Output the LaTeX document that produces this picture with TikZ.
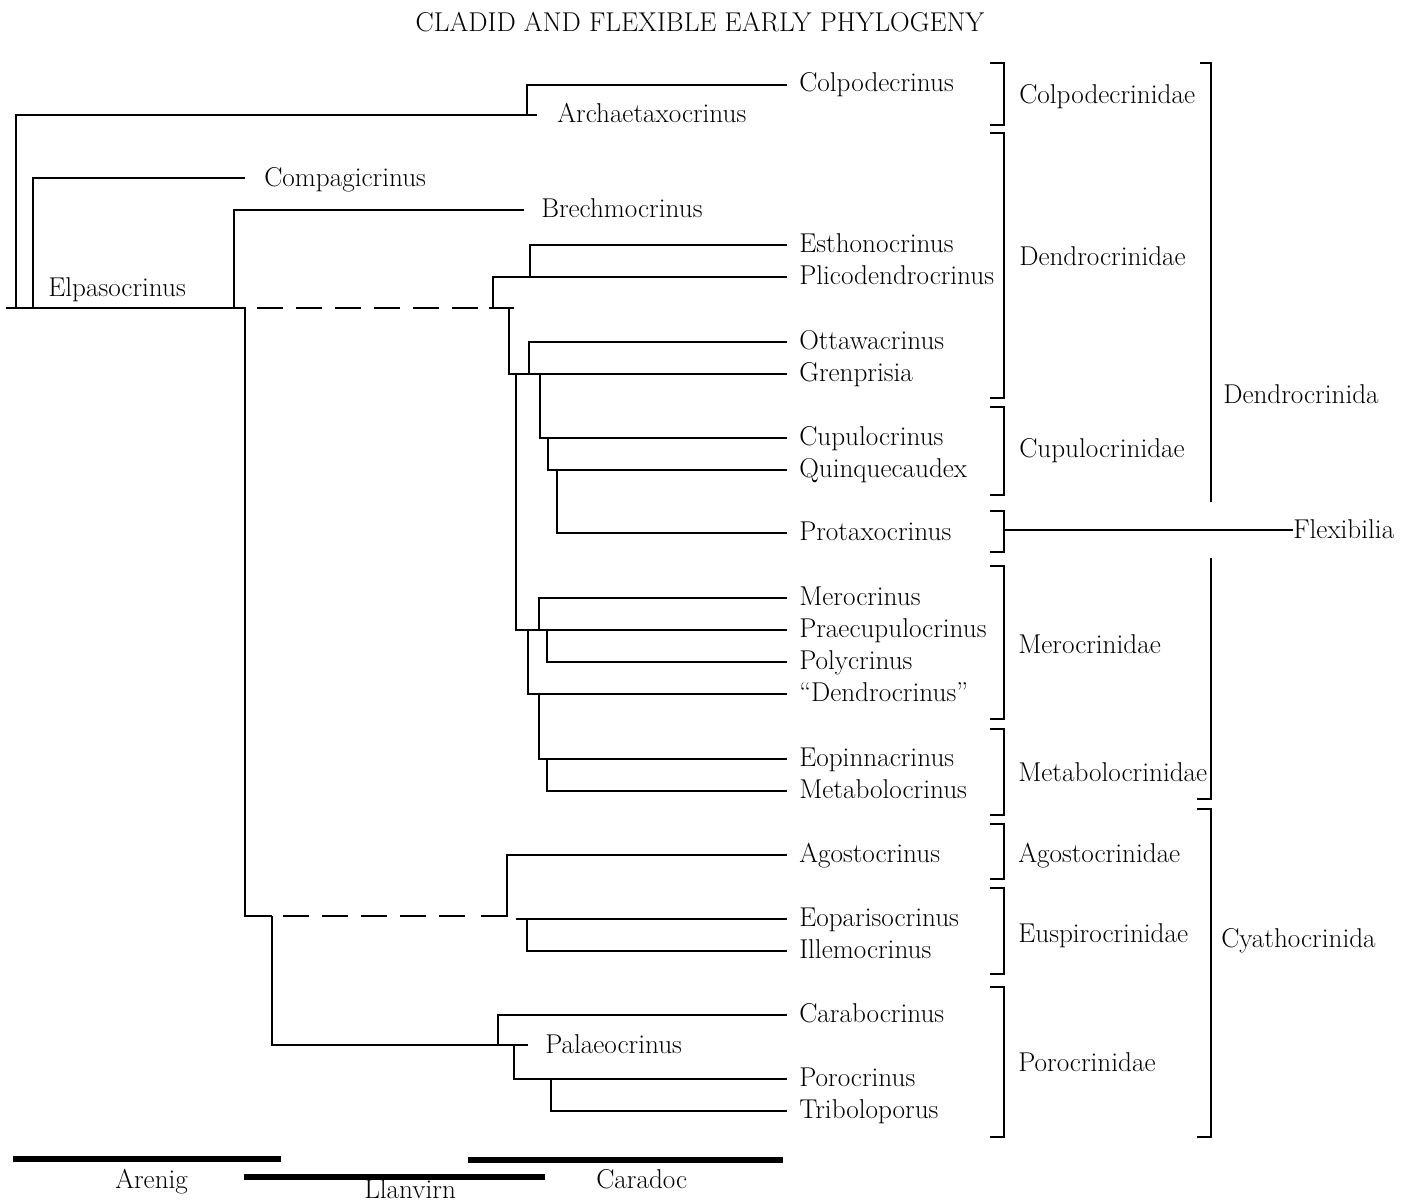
\documentclass[tikz,border=0pt]{standalone}
\newcommand{\labfont}{\fontsize{20.4}{24}\selectfont}
\tikzset{
  lbl/.style={anchor=base west, inner sep=0pt, font=\labfont},
  ttl/.style={anchor=base, inner sep=0pt, font=\labfont},
  branch/.style={line width=1.4pt, line join=miter},
  dbranch/.style={line width=1.4pt, dash pattern=on 19.5pt off 9.75pt},
  brk/.style={line width=1.4pt, line join=miter},
  bar/.style={line width=3.8pt}
}
% tip: coordinate at line end + label
\newcommand{\tip}[3]{\coordinate (#1-e) at (787,#2); \node[lbl] (#1) at (799,{#2+7}) {#3};}
\newcommand{\famb}[2]{\draw[brk] (990,#1) -- (1004,#1) -- (1004,#2) -- (990,#2);}
\begin{document}
\begin{tikzpicture}[x=0.75pt,y=-0.75pt]
\useasboundingbox (0,0) rectangle (1406,1202);

% title
\node[ttl] (title) at (700,32) {CLADID AND FLEXIBLE EARLY PHYLOGENY};

% tips
\tip{colp}{85}{Colpodecrinus}
\tip{esth}{245}{Esthonocrinus}
\tip{plic}{277}{Plicodendrocrinus}
\tip{otta}{342}{Ottawacrinus}
\tip{gren}{374}{Grenprisia}
\tip{cupu}{438}{Cupulocrinus}
\tip{quin}{470}{Quinquecaudex}
\tip{prot}{533}{Protaxocrinus}
\tip{mero}{598}{Merocrinus}
\tip{prae}{630}{Praecupulocrinus}
\tip{poly}{662}{Polycrinus}
\tip{dend}{694}{“Dendrocrinus”}
\tip{eopi}{759}{Eopinnacrinus}
\tip{meta}{791}{Metabolocrinus}
\tip{agos}{855}{Agostocrinus}
\tip{eopa}{919}{Eoparisocrinus}
\tip{ille}{951}{Illemocrinus}
\tip{cara}{1015}{Carabocrinus}
\tip{poro}{1079}{Porocrinus}
\tip{trib}{1111}{Triboloporus}

% inner labels
\coordinate (archae-e) at (537,115);
\node[lbl] (archae) at (557,123) {Archaetaxocrinus};
\coordinate (compa-e) at (245,178);
\node[lbl] (compa) at (264,186) {Compagicrinus};
\coordinate (brech-e) at (524,210);
\node[lbl] (brech) at (541,217) {Brechmocrinus};
\node[lbl] (elpa) at (48,296) {Elpasocrinus};
\coordinate (palaeo-e) at (528,1045);
\node[lbl] (palaeo) at (545,1053) {Palaeocrinus};

% tree
\draw[branch] (6,308) -- (245,308) -- (245,916) -- (272,916);
\draw[branch] (16,308) |- (archae-e);
\draw[branch] (527,115) |- (colp-e);
\draw[branch] (33,308) |- (compa-e);
\draw[branch] (234,308) |- (brech-e);
\draw[dbranch] (257,308) -- (479,308);
\draw[branch] (489,308) -- (514,308);
\draw[branch] (493,308) |- (plic-e);
\draw[branch] (530,277) |- (esth-e);
\draw[branch] (509,308) |- (gren-e);
\draw[branch] (529,374) |- (otta-e);
\draw[branch] (516,374) |- (prae-e);
\draw[branch] (540,374) |- (cupu-e);
\draw[branch] (548,438) |- (quin-e);
\draw[branch] (557,470) |- (prot-e);
\draw[branch] (539,630) |- (mero-e);
\draw[branch] (547,630) |- (poly-e);
\draw[branch] (528,630) |- (dend-e);
\draw[branch] (539,694) |- (eopi-e);
\draw[branch] (547,759) |- (meta-e);

\draw[dbranch] (283,916) -- (469,916);
\draw[branch] (481,916) -- (507,916) |- (agos-e);
\draw[branch] (516,919) -- (eopa-e);
\draw[branch] (527,919) |- (ille-e);
\draw[branch] (272,916) |- (palaeo-e);
\draw[branch] (498,1045) |- (cara-e);
\draw[branch] (514,1045) |- (poro-e);
\draw[branch] (551,1079) |- (trib-e);

% family brackets
\famb{63}{125}
\famb{133}{398}
\famb{407}{495}
\famb{511}{552}
\famb{566}{719}
\famb{729}{815}
\famb{824}{879}
\famb{888}{974}
\famb{987}{1137}

\node[lbl] (f1) at (1019,104) {Colpodecrinidae};
\node[lbl] (f2) at (1019,265) {Dendrocrinidae};
\node[lbl] (f3) at (1019,457) {Cupulocrinidae};
\node[lbl] (f4) at (1018,653) {Merocrinidae};
\node[lbl] (f5) at (1018,781) {Metabolocrinidae};
\node[lbl] (f6) at (1018,862) {Agostocrinidae};
\node[lbl] (f7) at (1018,942) {Euspirocrinidae};
\node[lbl] (f8) at (1018,1071) {Porocrinidae};

% order brackets
\draw[brk] (1200,63) -- (1211,63) -- (1211,502);
\draw[brk] (1211,558) -- (1211,799) -- (1197,799);
\draw[brk] (1197,809) -- (1211,809) -- (1211,1137) -- (1197,1137);
\node[lbl] (o1) at (1223,403) {Dendrocrinida};
\node[lbl] (o2) at (1221,947) {Cyathocrinida};
\node[lbl] (flex) at (1293,538) {Flexibilia};
\coordinate (flexb) at (1004,530);
\draw[branch] (flexb) -- (flexb -| flex.west);

% time bars
\coordinate (a1) at (13,1159); \coordinate (a2) at (281,1159);
\coordinate (l1) at (244,1177); \coordinate (l2) at (545,1177);
\coordinate (c1) at (468,1160); \coordinate (c2) at (783,1160);
\draw[bar] (a1) -- (a2);
\draw[bar] (l1) -- (l2);
\draw[bar] (c1) -- (c2);
\node[lbl] (aren) at (115,1188) {Arenig};
\node[lbl] (llan) at (364,1198) {Llanvirn};
\node[lbl] (cara2) at (596,1188) {Caradoc};
\end{tikzpicture}
\end{document}
